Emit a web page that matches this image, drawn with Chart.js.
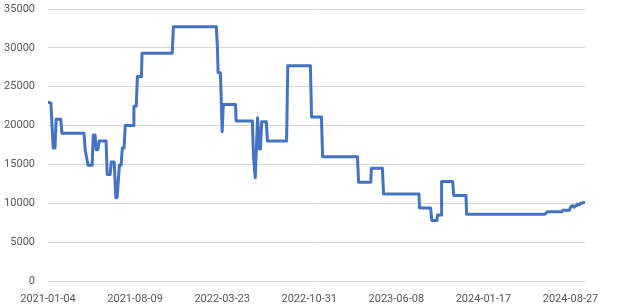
<!DOCTYPE html>
<html>
<head>
<meta charset="utf-8">
<script src="https://cdn.jsdelivr.net/npm/chart.js@4/dist/chart.umd.min.js"></script>
<style>
  html, body { margin: 0; padding: 0; background: #ffffff; }
  #chart { display: block; }
</style>
</head>
<body>
<canvas id="chart" width="620" height="308"></canvas>
<script>
// trading-day index of each turning point, and the price there
const dayIndex = [
    0, 5, 7, 9, 12, 14, 22, 24, 62, 64, 69, 76, 78, 81, 83, 86, 88, 100,
    102, 107, 109, 114, 117, 119, 123, 126, 128, 131, 133, 147, 148, 152,
    154, 161, 162, 214, 216, 290, 292, 293, 297, 300, 302, 323, 324, 352,
    354, 357, 361, 364, 366, 368, 376, 378, 411, 413, 452, 454, 471, 473,
    533, 535, 556, 557, 576, 578, 639, 640, 659, 661, 670, 671, 677, 678,
    697, 699, 720, 721, 856, 860, 885, 887, 898, 901, 904, 906, 910, 911,
    915, 917, 920, 922, 925
];
const price = [
    23000, 22900, 20000, 17100, 17100, 20800, 20800, 19000, 19000, 16900,
    14900, 14900, 18800, 18800, 16900, 16900, 18000, 18000, 13700, 13700,
    15300, 15300, 10700, 10700, 14900, 14900, 17100, 17100, 20000, 20000,
    22500, 22500, 26300, 26300, 29300, 29300, 32700, 32700, 29700, 26800,
    26800, 19200, 22700, 22700, 20600, 20600, 16000, 13300, 21000, 17000,
    17000, 20500, 20500, 18000, 18000, 27700, 27700, 21100, 21100, 16000,
    16000, 12700, 12700, 14500, 14500, 11200, 11200, 9400, 9400, 7800,
    7800, 8500, 8500, 12800, 12800, 11000, 11000, 8600, 8600, 8900, 8900,
    9100, 9100, 9600, 9700, 9500, 9700, 9900, 9800, 10000, 10000, 10100,
    10100
];

// category labels shown every 150 trading days
const tickLabels = [
    '2021-01-04', '2021-08-09', '2022-03-23', '2022-10-31',
    '2023-06-08', '2024-01-17', '2024-08-27'
];
const labelStep = 150;

const points = dayIndex.map((d, i) => ({ x: d, y: price[i] }));

const font = { family: 'Roboto', size: 11 };

new Chart(document.getElementById('chart'), {
    type: 'line',
    data: {
        datasets: [{
            data: points,
            borderColor: '#4472C4',
            borderWidth: 3,
            borderJoinStyle: 'round',
            borderCapStyle: 'round',
            pointRadius: 0,
            tension: 0,
            fill: false,
        }],
    },
    options: {
        responsive: false,
        animation: false,
        layout: { padding: { top: 0, right: 35, left: 0, bottom: 0 } },
        plugins: {
            legend: { display: false },
            tooltip: { enabled: false },
        },
        scales: {
            x: {
                type: 'linear',
                min: 0,
                max: 925,
                grid: { display: false },
                border: { display: false },
                afterBuildTicks: (scale) => {
                    scale.ticks = tickLabels.map((_, i) => ({ value: i * labelStep }));
                },
                afterFit: (scale) => { scale.height = 27; },
                ticks: {
                    font,
                    color: '#595959',
                    padding: 4,
                    maxRotation: 0,
                    autoSkip: false,
                    callback: (v) => tickLabels[Math.round(v / labelStep)],
                },
            },
            y: {
                min: 0,
                max: 35000,
                grid: { color: '#d9d9d9', lineWidth: 1, drawTicks: false },
                border: { display: false },
                afterFit: (scale) => {
                    scale.width = 48;
                    scale.paddingTop = 9;
                    scale.paddingBottom = 0;
                },
                ticks: {
                    font,
                    color: '#595959',
                    padding: 13,
                    stepSize: 5000,
                    callback: (v) => String(v),
                },
            },
        },
    },
});
</script>
</body>
</html>
